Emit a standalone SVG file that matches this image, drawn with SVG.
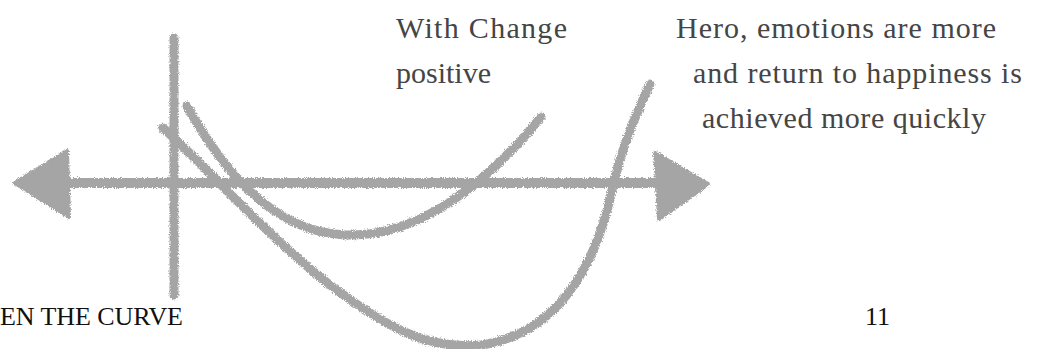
<svg xmlns="http://www.w3.org/2000/svg" width="1039" height="349" viewBox="0 0 1039 349">
<defs>
<filter id="chalk" x="-5%" y="-5%" width="110%" height="110%">
<feTurbulence type="fractalNoise" baseFrequency="0.9" numOctaves="2" seed="3" result="n"/>
<feDisplacementMap in="SourceGraphic" in2="n" scale="5" xChannelSelector="R" yChannelSelector="G"/>
</filter>
<style>
.ch{fill:none;stroke:#a5a5a5;stroke-linecap:round;stroke-linejoin:round}
.hd{fill:#a5a5a5;stroke:#a5a5a5;stroke-width:4;stroke-linejoin:round}
.t{font-family:"Liberation Serif",serif;font-size:30px;fill:#454545}
.b{font-family:"Liberation Serif",serif;font-size:26px;fill:#111}
</style>
</defs>
<rect width="1039" height="349" fill="#fff"/>
<g id="chalk-drawing" filter="url(#chalk)">
<path class="ch" stroke-width="9" d="M174,38 L174,295"/>
<path class="ch" stroke-width="10" d="M40,183 L680,183"/>
<polygon class="hd" points="15,183 67,151 69,217"/>
<polygon class="hd" points="708,184 655,153 659,219"/>
<path class="ch" stroke-width="9" d="M187,106 C220,165 270,232 345,235 C420,238 490,180 541,117"/>
<path class="ch" stroke-width="9" d="M163,128 C200,160 260,230 330,285 C390,330 430,350 480,345 C555,335 595,270 612,190 C622,145 638,110 650,84"/>
</g>
<g id="labels">
<text class="t" x="396" y="38" textLength="171">With Change</text>
<text class="t" x="396" y="83" textLength="95">positive</text>
<text class="t" x="676" y="38" textLength="320">Hero, emotions are more</text>
<text class="t" x="693" y="83" textLength="329">and return to happiness is</text>
<text class="t" x="702" y="128" textLength="284">achieved more quickly</text>
<text class="b" x="0" y="325" textLength="183">EN THE CURVE</text>
<text class="b" x="865" y="325">11</text>
</g>
</svg>
